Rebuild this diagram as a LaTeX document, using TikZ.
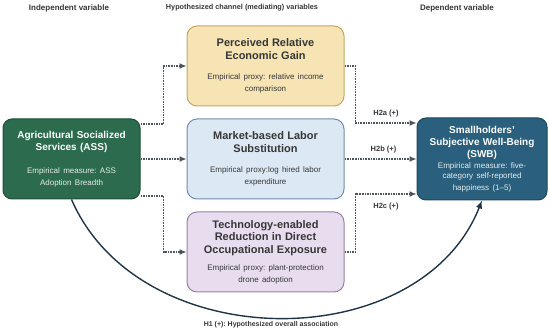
\documentclass[tikz,border=0pt]{standalone}
\usepackage{fontspec}
\setmainfont{Liberation Sans}
\usetikzlibrary{arrows.meta,positioning}
\frenchspacing
\definecolor{Forest}{HTML}{2C6B4E}
\definecolor{ForestLine}{HTML}{1E4E38}
\definecolor{Wheat}{HTML}{F6E4B5}
\definecolor{WheatLine}{HTML}{C8A55F}
\definecolor{Sky}{HTML}{DCE8F4}
\definecolor{SkyLine}{HTML}{6E8EAD}
\definecolor{Lilac}{HTML}{E7DDEE}
\definecolor{LilacLine}{HTML}{9781A8}
\definecolor{Navy}{HTML}{2A607D}
\definecolor{NavyLine}{HTML}{1B4760}
\definecolor{Slate}{HTML}{4B555C}
\definecolor{Ink}{HTML}{1F3447}
\definecolor{Txt}{HTML}{363636}
\newcommand{\ttlfont}[2]{\bfseries\fontsize{#1}{#2}\selectfont}
\newcommand{\notefont}{\mdseries\fontsize{8}{10}\selectfont}
\tikzset{
  hdr/.style={font=\bfseries\fontsize{8}{10}\selectfont,text=Txt,inner sep=0pt},
  hlab/.style={font=\bfseries\fontsize{7.5}{9}\selectfont,text=Txt,inner sep=2pt},
  dotarr/.style={-{Latex[length=7pt,width=6pt]},line width=1.2pt,draw=Slate,dash pattern=on 1.6pt off 1pt},
  curvearr/.style={-{Latex[length=8pt,width=6.5pt]},line width=1.4pt,draw=Ink},
  greenbox/.style={draw=ForestLine,fill=Forest,rounded corners=9pt,line width=1pt,text=white,align=center,inner xsep=6pt,text width=125pt,minimum height=80pt},
  navybox/.style={draw=NavyLine,fill=Navy,rounded corners=9pt,line width=1pt,text=white,align=center,inner xsep=6pt,text width=118pt,minimum height=82pt},
  medbox/.style={rounded corners=10pt,line width=1pt,text=Txt,align=center,inner xsep=6pt,text width=145pt,minimum height=80pt},
  wheatbox/.style={medbox,draw=WheatLine,fill=Wheat},
  skybox/.style={medbox,draw=SkyLine,fill=Sky},
  lilacbox/.style={medbox,draw=LilacLine,fill=Lilac}
}
\begin{document}
\begin{tikzpicture}[x=1pt,y=-1pt,node distance=12pt]
  \useasboundingbox (0,0) rectangle (550,334);
  % column headings
  \node[hdr] (indep) at (69,8) {Independent variable};
  \node[hdr,font=\bfseries\fontsize{7.3}{9}\selectfont] (chan) at (242,8) {Hypothesized channel (mediating) variables};
  \node[hdr] (dep) at (457,8) {Dependent variable};
  % boxes
  \node[greenbox] (ass) at (71.5,159) {\ttlfont{10}{11.5}Agricultural Socialized\\Services (ASS)\par\vspace{13pt}\notefont\color{white!88!Forest}Empirical measure: ASS\\Adoption Breadth};
  \node[skybox,right=46pt of ass] (labor) {\ttlfont{11}{13}Market-based Labor\\Substitution\par\vspace{10pt}\notefont Empirical proxy:log hired labor\\expenditure};
  \node[wheatbox,above=12pt of labor] (gain) {\ttlfont{11}{13}Perceived Relative\\Economic Gain\par\vspace{10pt}\notefont Empirical proxy: relative income\\comparison};
  \node[lilacbox,below=12pt of labor] (drone) {\ttlfont{11}{12.5}Technology-enabled\\Reduction in Direct\\Occupational Exposure\par\vspace{7pt}\notefont Empirical proxy: plant-protection\\drone adoption};
  \node[navybox,right=72pt of labor] (swb) {\ttlfont{10}{12}Smallholders'\\Subjective Well-Being\\(SWB)\par\vspace{1pt}\notefont\color{white!88!Navy}Empirical measure: five-\\category self-reported\\happiness (1--5)};
  % channel paths
  \draw[dotarr] ([yshift=35pt]ass.east) -- ++(23,0) |- (gain.west);
  \draw[dotarr] (ass.east) -- (labor.west);
  \draw[dotarr] ([yshift=-37pt]ass.east) -- ++(23,0) |- (drone.west);
  \draw[dotarr] (gain.east) -- ++(11,0) |- ([yshift=36pt]swb.west) node[hlab,pos=0.75,above=3pt] (h2a) {H2a (+)};
  \draw[dotarr] (labor.east) -- (swb.west) node[hlab,midway,above=3pt,xshift=3pt] (h2b) {H2b (+)};
  \draw[dotarr] (drone.east) -- ++(11,0) |- ([yshift=-35pt]swb.west) node[hlab,pos=0.75,below=6pt] (h2c) {H2c (+)};
  % overall association
  \draw[curvearr] (ass.south) .. controls (140,357) and (420,357) .. (swb.south);
  \node[hlab,font=\bfseries\fontsize{7}{9}\selectfont] (h1) at (271,325) {H1 (+): Hypothesized overall association};
\end{tikzpicture}
\end{document}
